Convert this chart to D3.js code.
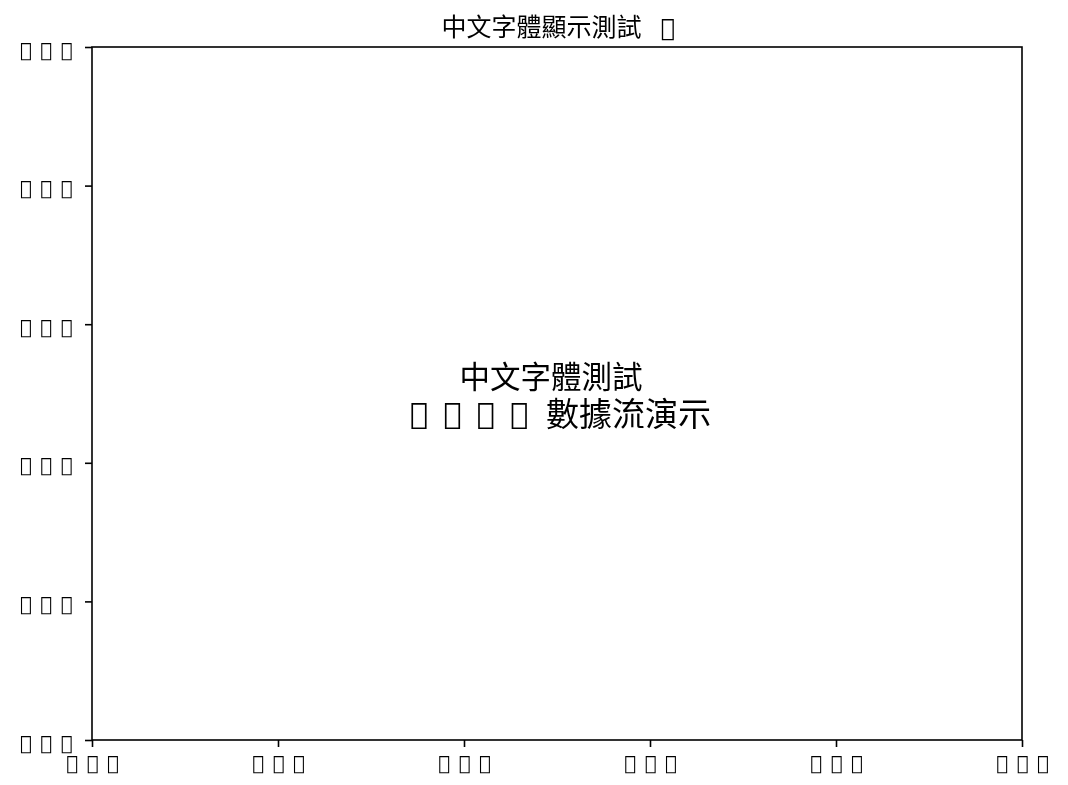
<!DOCTYPE html>
<html>
<head>
<meta charset="utf-8">
<script src="https://cdn.jsdelivr.net/npm/d3@7"></script>
<style>
  html, body { margin: 0; padding: 0; background: #fff; }
  svg { display: block; will-change: transform; }
</style>
</head>
<body>
<svg id="chart" width="1068" height="785"></svg>
<script>
// ---- data ----
const xTickValues = [0, 0.2, 0.4, 0.6, 0.8, 1.0];
const yTickValues = [0, 0.2, 0.4, 0.6, 0.8, 1.0];
// tick labels of the original; the source font lacked these glyphs, so each
// character shows up as a missing-glyph box (reproduced with an unmapped code point)
const xTickLabels = ["0.0", "0.2", "0.4", "0.6", "0.8", "1.0"];
const yTickLabels = ["0.0", "0.2", "0.4", "0.6", "0.8", "1.0"];
const MISSING = "\uE000";
const titleText = "中文字體顯示測試";
const titleMissing = 1;
const centerLine1 = "中文字體測試";
const centerLine2Missing = 4;
const centerLine2 = "數據流演示";

// ---- layout ----
const W = 1068, H = 785;
const plot = { left: 92, right: 1022, top: 47, bottom: 740 };
const CJK = "'Noto Sans CJK TC', 'Noto Sans CJK SC', sans-serif";
const BOXFONT = "'DejaVu Sans', sans-serif";
const ink = "#000";

const svg = d3.select("#chart");

const x = d3.scaleLinear().domain([0, 1]).range([plot.left, plot.right]);
const y = d3.scaleLinear().domain([0, 1]).range([plot.bottom, plot.top]);

const gx = svg.append("g")
  .attr("transform", `translate(0,${plot.bottom})`)
  .call(d3.axisBottom(x).tickValues(xTickValues).tickSize(7).tickSizeOuter(0).tickFormat(() => ""));
const gy = svg.append("g")
  .attr("transform", `translate(${plot.left},0)`)
  .call(d3.axisLeft(y).tickValues(yTickValues).tickSize(7).tickSizeOuter(0).tickFormat(() => ""));
[gx, gy].forEach(g => {
  g.select(".domain").remove();
  g.selectAll(".tick line").attr("stroke", ink).attr("stroke-width", 1.6);
  g.selectAll(".tick text").remove();
});

svg.append("rect")
  .attr("x", plot.left).attr("y", plot.top)
  .attr("width", plot.right - plot.left).attr("height", plot.bottom - plot.top)
  .attr("fill", "none").attr("stroke", ink).attr("stroke-width", 1.6);

const tickCell = 20.3, tickFont = 19.5;
gx.selectAll(".tick").each(function (d, i) {
  const chars = Array.from(xTickLabels[i]);
  const t = d3.select(this).append("text")
    .attr("font-family", BOXFONT).attr("font-size", tickFont)
    .attr("fill", ink).attr("text-anchor", "middle").attr("y", 30);
  chars.forEach((c, j) => {
    t.append("tspan").attr("x", (j - (chars.length - 1) / 2) * tickCell).text(MISSING);
  });
});
gy.selectAll(".tick").each(function (d, i) {
  const chars = Array.from(yTickLabels[i]);
  const t = d3.select(this).append("text")
    .attr("font-family", BOXFONT).attr("font-size", tickFont)
    .attr("fill", ink).attr("text-anchor", "middle").attr("y", 9);
  const rightCenter = -25.5;
  chars.forEach((c, j) => {
    t.append("tspan").attr("x", rightCenter - (chars.length - 1 - j) * tickCell).text(MISSING);
  });
});

const title = svg.append("text").attr("fill", ink).attr("text-anchor", "middle").attr("y", 36);
title.append("tspan").attr("x", 541.5).attr("font-family", CJK).attr("font-size", 25).text(titleText);
for (let k = 0; k < titleMissing; k++) {
  title.append("tspan").attr("x", 668 + k * 24).attr("font-family", BOXFONT).attr("font-size", 24).text(MISSING);
}

svg.append("text").attr("fill", ink).attr("text-anchor", "middle")
  .attr("x", 551).attr("y", 388)
  .attr("font-family", CJK).attr("font-size", 30.5).text(centerLine1);
const l2 = svg.append("text").attr("fill", ink).attr("text-anchor", "middle").attr("y", 424);
const boxCell = 33.4;
for (let k = 0; k < centerLine2Missing; k++) {
  l2.append("tspan").attr("x", 419 + k * boxCell).attr("font-family", BOXFONT).attr("font-size", 30).text(MISSING);
}
l2.append("tspan").attr("x", 628.5).attr("y", 426).attr("font-family", CJK).attr("font-size", 33).text(centerLine2);
</script>
</body>
</html>
